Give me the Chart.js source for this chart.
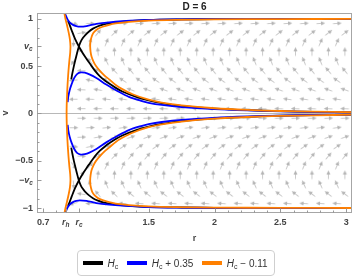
<!DOCTYPE html>
<html><head><meta charset="utf-8">
<script src="https://cdn.jsdelivr.net/npm/chart.js@4/dist/chart.umd.min.js"></script>
<style>
html,body{margin:0;padding:0;background:#fff;}
#wrap{position:relative;width:357px;height:278px;overflow:hidden;}
#c{position:absolute;left:0;top:0;}
.tl{position:absolute;font:italic bold 9px "Liberation Sans",Arial,sans-serif;color:#444;white-space:nowrap;line-height:10px;}
.tl sub{font-size:6.5px;vertical-align:baseline;position:relative;top:2px;}
#legend{position:absolute;left:77px;top:250px;height:26px;border:1px solid #cfcfcf;border-radius:4px;display:flex;align-items:center;padding:0 6px 0 5px;box-sizing:border-box;font:10px "Liberation Sans",Arial,sans-serif;color:#333;white-space:nowrap;}
#legend .it{display:flex;align-items:center;margin-right:9px;}
#legend .it:last-child{margin-right:0;}
#legend .sw{display:inline-block;width:20px;height:3.5px;margin-right:4.5px;}
#legend sub{font-size:7px;vertical-align:baseline;position:relative;top:2px;}
</style>
</head><body>
<div id="wrap"><canvas id="c" width="357" height="278"></canvas><div id="legend"></div></div>
<script>
// ---------- axis ticks ----------
const xTickValues = [0.7, 0.872, 0.97, 1.5, 2, 2.5, 3];
const xTickLabels = ['0.7', 'r_h', 'r_c', '1.5', '2', '2.5', '3'];
const xMinorTicks = [0.8, 1.1, 1.2, 1.3, 1.4, 1.6, 1.7, 1.8, 1.9, 2.1, 2.2, 2.3, 2.4, 2.6, 2.7, 2.8, 2.9];
const yTickValues = [-1, -0.707, -0.5, 0, 0.5, 0.707, 1];
const yTickLabels = ['\u22121', '\u2212v_c', '\u22120.5', '0', '0.5', 'v_c', '1'];
const yMinorTicks = [-0.9, -0.8, -0.6, -0.4, -0.3, -0.2, -0.1, 0.1, 0.2, 0.3, 0.4, 0.6, 0.8, 0.9];

// ---------- series ----------
const seriesNames = ['H_c', 'H_c + 0.35', 'H_c \u2212 0.11'];
const seriesColors = ['#000000', '#0000ff', '#ff8000'];

// H_c (black) separatrix branches
const blackUpperA = [[0.887,0.975],[0.9,0.935],[0.915,0.878],[0.94,0.79],[0.97,0.707],[1.0,0.635],[1.03,0.572],[1.053,0.527],[1.09,0.455],[1.128,0.395],[1.17,0.345],[1.2,0.315],[1.25,0.27],[1.3,0.232],[1.4,0.178],[1.5,0.138],[1.6,0.11],[1.75,0.081],[2.0,0.052],[2.25,0.035],[2.5,0.024],[2.75,0.017],[3.05,0.012]];
const blackUpperB = [[0.912,0.36],[0.92,0.42],[0.932,0.5],[0.955,0.63],[0.97,0.707],[0.985,0.76],[1.0,0.795],[1.015,0.822],[1.045,0.862],[1.077,0.895],[1.115,0.92],[1.153,0.937],[1.2,0.95],[1.253,0.96],[1.35,0.974],[1.5,0.986],[1.75,0.992],[2.0,0.995],[2.5,0.997],[3.05,0.998]];
const blackLowerA = [[0.887,-0.975],[0.9,-0.935],[0.915,-0.878],[0.94,-0.79],[0.97,-0.707],[1.0,-0.635],[1.03,-0.572],[1.053,-0.527],[1.09,-0.455],[1.128,-0.395],[1.17,-0.345],[1.2,-0.315],[1.25,-0.27],[1.3,-0.232],[1.4,-0.178],[1.5,-0.138],[1.6,-0.11],[1.75,-0.081],[2.0,-0.052],[2.25,-0.035],[2.5,-0.024],[2.75,-0.017],[3.05,-0.012]];
const blackLowerB = [[0.912,-0.36],[0.92,-0.42],[0.932,-0.5],[0.955,-0.63],[0.97,-0.707],[0.985,-0.76],[1.0,-0.795],[1.015,-0.822],[1.045,-0.862],[1.077,-0.895],[1.115,-0.92],[1.153,-0.937],[1.2,-0.95],[1.253,-0.96],[1.35,-0.974],[1.5,-0.986],[1.75,-0.992],[2.0,-0.995],[2.5,-0.997],[3.05,-0.998]];

// H_c + 0.35 (blue)
const blueUpperTop = [[0.862,1.06],[0.872,1.03],[0.885,0.99],[0.902,0.958],[0.925,0.935],[0.95,0.922],[0.977,0.916],[1.028,0.922],[1.103,0.945],[1.2,0.962],[1.3,0.973],[1.5,0.987],[1.75,0.993],[2.0,0.996],[2.5,0.998],[3.05,0.999]];
const blueUpperLow = [[0.885,0.12],[0.89,0.18],[0.9,0.245],[0.915,0.31],[0.935,0.375],[0.958,0.418],[0.985,0.434],[1.015,0.43],[1.05,0.413],[1.103,0.375],[1.178,0.305],[1.265,0.235],[1.35,0.175],[1.45,0.13],[1.5,0.112],[1.6,0.09],[1.75,0.068],[2.0,0.046],[2.25,0.032],[2.5,0.022],[2.75,0.016],[3.05,0.011]];
const blueLowerLow = [[0.862,-1.06],[0.872,-1.03],[0.885,-0.99],[0.902,-0.958],[0.925,-0.935],[0.95,-0.922],[0.977,-0.916],[1.028,-0.922],[1.103,-0.945],[1.2,-0.962],[1.3,-0.973],[1.5,-0.987],[1.75,-0.993],[2.0,-0.996],[2.5,-0.998],[3.05,-0.999]];
const blueLowerTop = [[0.885,-0.12],[0.89,-0.18],[0.9,-0.245],[0.915,-0.31],[0.935,-0.375],[0.958,-0.418],[0.985,-0.434],[1.015,-0.43],[1.05,-0.413],[1.103,-0.375],[1.178,-0.305],[1.265,-0.235],[1.35,-0.175],[1.45,-0.13],[1.5,-0.112],[1.6,-0.09],[1.75,-0.068],[2.0,-0.046],[2.25,-0.032],[2.5,-0.022],[2.75,-0.016],[3.05,-0.011]];

// H_c - 0.11 (orange)
const orangeLeft = [[0.858,1.07],[0.868,1.0],[0.88,0.93],[0.893,0.85],[0.902,0.78],[0.906,0.71],[0.904,0.64],[0.898,0.56],[0.891,0.45],[0.886,0.35],[0.882,0.25],[0.879,0.15],[0.877,0.05],[0.877,-0.05],[0.879,-0.15],[0.882,-0.25],[0.886,-0.35],[0.891,-0.45],[0.898,-0.56],[0.904,-0.64],[0.906,-0.71],[0.902,-0.78],[0.893,-0.85],[0.88,-0.93],[0.868,-1.0],[0.858,-1.07]];
const orangeUpperRight = [[3.05,0.997],[2.5,0.996],[2.0,0.993],[1.7,0.988],[1.5,0.98],[1.35,0.966],[1.25,0.95],[1.2,0.936],[1.15,0.915],[1.115,0.893],[1.09,0.865],[1.072,0.83],[1.062,0.785],[1.057,0.745],[1.056,0.7],[1.059,0.65],[1.066,0.6],[1.08,0.55],[1.1,0.5],[1.13,0.45],[1.165,0.4],[1.2,0.36],[1.25,0.3],[1.3,0.257],[1.378,0.203],[1.5,0.145],[1.6,0.114],[1.75,0.085],[2.0,0.055],[2.25,0.037],[2.5,0.026],[2.75,0.019],[3.05,0.013]];
const orangeLowerRight = [[3.05,-0.997],[2.5,-0.996],[2.0,-0.993],[1.7,-0.988],[1.5,-0.98],[1.35,-0.966],[1.25,-0.95],[1.2,-0.936],[1.15,-0.915],[1.115,-0.893],[1.09,-0.865],[1.072,-0.83],[1.062,-0.785],[1.057,-0.745],[1.056,-0.7],[1.059,-0.65],[1.066,-0.6],[1.08,-0.55],[1.1,-0.5],[1.13,-0.45],[1.165,-0.4],[1.2,-0.36],[1.25,-0.3],[1.3,-0.257],[1.378,-0.203],[1.5,-0.145],[1.6,-0.114],[1.75,-0.085],[2.0,-0.055],[2.25,-0.037],[2.5,-0.026],[2.75,-0.019],[3.05,-0.013]];

// ---------- stream arrows (grid) ----------
const arrowColsA = [0.93,1.055,1.18,1.305,1.43,1.555,1.68,1.805,1.93,2.055,2.18,2.305,2.43,2.555,2.68,2.805,2.93];
const arrowColsB = [0.99,1.115,1.24,1.365,1.49,1.615,1.74,1.865,1.99,2.115,2.24,2.365,2.49,2.615,2.74,2.865,2.99];
const arrowRowV = [0.95,0.85,0.75,0.65,0.55,0.45,0.35,0.25,0.15,0.05,-0.05,-0.15,-0.25,-0.35,-0.45,-0.55,-0.65,-0.75,-0.85,-0.95];
const arrowRowCols = ['A','B','A','B','A','B','A','B','A','B','B','A','B','A','B','A','B','A','B','A'];
// direction of each arrow in degrees, counter-clockwise from +r
const arrowAngles = [
 [-15,0,4,4,4,4,4,4,4,4,4,4,4,4,4,4,4],
 [10,50,44,40,38,38,38,38,38,38,38,38,38,38,38,38,38],
 [-95,75,68,66,66,66,66,66,66,66,66,66,66,66,66,66,66],
 [120,95,92,90,90,90,90,90,90,90,90,90,90,90,90,90,90],
 [235,130,116,112,112,112,112,112,112,112,112,112,112,112,112,112,112],
 [180,150,135,130,130,130,130,130,130,130,130,130,130,130,130,130,130],
 [185,168,152,146,145,145,145,145,145,145,145,145,145,145,145,145,145],
 [178,170,163,160,160,160,160,160,160,160,160,160,160,160,160,160,160],
 [180,178,174,172,172,172,172,172,172,172,172,172,172,172,172,172,172],
 [180,180,179,178,178,178,178,178,178,178,178,178,178,178,178,178,178],
 [0,0,1,2,2,2,2,2,2,2,2,2,2,2,2,2,2],
 [0,2,6,8,8,8,8,8,8,8,8,8,8,8,8,8,8],
 [2,10,17,20,20,20,20,20,20,20,20,20,20,20,20,20,20],
 [-5,12,28,34,35,35,35,35,35,35,35,35,35,35,35,35,35],
 [0,30,45,50,50,50,50,50,50,50,50,50,50,50,50,50,50],
 [-55,50,64,68,68,68,68,68,68,68,68,68,68,68,68,68,68],
 [60,85,88,90,90,90,90,90,90,90,90,90,90,90,90,90,90],
 [275,105,112,114,114,114,114,114,114,114,114,114,114,114,114,114,114],
 [170,130,136,140,142,142,142,142,142,142,142,142,142,142,142,142,142],
 [195,180,176,176,176,176,176,176,176,176,176,176,176,176,176,176,176]
];

// ---------- build ----------
const toXY = arr => arr.map(p => ({x: p[0], y: p[1]}));
const arrowPts = [], arrowRot = [];
arrowRowV.forEach((v, ri) => {
  const cols = arrowRowCols[ri] === 'A' ? arrowColsA : arrowColsB;
  cols.forEach((r, ci) => { arrowPts.push({x: r, y: v}); arrowRot.push(-arrowAngles[ri][ci]); });
});

function makeArrow() {
  const c = document.createElement('canvas'); c.width = 11; c.height = 7;
  const g = c.getContext('2d');
  g.strokeStyle = '#c4c4c4'; g.fillStyle = '#b4b4b4'; g.lineWidth = 0.9;
  g.beginPath(); g.moveTo(1.5, 3.5); g.lineTo(7, 3.5); g.stroke();
  g.beginPath(); g.moveTo(10.2, 3.5); g.lineTo(6, 1.6); g.lineTo(6, 5.4); g.closePath(); g.fill();
  return c;
}
const arrowImg = makeArrow();

function curve(arr, si) {
  return {type: 'line', data: toXY(arr), borderColor: seriesColors[si], borderWidth: 1.8,
    pointRadius: 0, tension: 0.3, fill: false, clip: 0, order: 3 - si, parsing: false};
}
const datasets = [
  curve(blackUpperA, 0), curve(blackUpperB, 0), curve(blackLowerA, 0), curve(blackLowerB, 0),
  curve(blueUpperTop, 1), curve(blueUpperLow, 1), curve(blueLowerLow, 1), curve(blueLowerTop, 1),
  curve(orangeLeft, 2), curve(orangeUpperRight, 2), curve(orangeLowerRight, 2),
  {type: 'scatter', data: arrowPts, pointStyle: arrowImg, rotation: arrowRot, pointRadius: 4,
   showLine: false, clip: 0, order: 10}
];

const FONT = '"Liberation Sans", Arial, sans-serif';
const framePlugin = {
  id: 'frame',
  beforeDatasetsDraw(chart) {
    const {ctx, chartArea: a, scales: {y}} = chart;
    const py = Math.round(y.getPixelForValue(0)) + 0.5;
    ctx.save(); ctx.strokeStyle = '#b8b8b8'; ctx.lineWidth = 1;
    ctx.beginPath(); ctx.moveTo(a.left, py); ctx.lineTo(a.right, py); ctx.stroke(); ctx.restore();
  },
  afterDatasetsDraw(chart) {
    const {ctx, chartArea: a, scales: {x, y}} = chart;
    ctx.save();
    ctx.strokeStyle = '#a6a6a6'; ctx.lineWidth = 1;
    ctx.strokeRect(Math.round(a.left) + 0.5, Math.round(a.top) + 0.5, Math.round(a.right - a.left) - 1, Math.round(a.bottom - a.top) - 1);
    ctx.strokeStyle = '#999';
    const xt = (v, len) => { const p = Math.round(x.getPixelForValue(v)) + 0.5; ctx.beginPath(); ctx.moveTo(p, a.bottom); ctx.lineTo(p, a.bottom - len); ctx.stroke(); };
    const yt = (v, len) => { const p = Math.round(y.getPixelForValue(v)) + 0.5; ctx.beginPath(); ctx.moveTo(a.left, p); ctx.lineTo(a.left + len, p); ctx.stroke(); };
    xTickValues.forEach(v => xt(v, 4.5)); xMinorTicks.forEach(v => xt(v, 2.5));
    yTickValues.forEach(v => yt(v, 4.5)); yMinorTicks.forEach(v => yt(v, 2.5));
    ctx.restore();
  }
};

const chart = new Chart(document.getElementById('c'), {
  data: {datasets},
  options: {
    responsive: false, animation: false, events: [],
    layout: {padding: {left: 0, right: 2, top: 0, bottom: 34}},
    plugins: {
      legend: {display: false}, tooltip: {enabled: false},
      title: {display: true, text: 'D = 6', fullSize: false, color: '#222',
        font: {family: FONT, size: 10, weight: 'bold'}, padding: {top: 1, bottom: 0}}
    },
    scales: {
      x: {type: 'linear', min: 0.652, max: 3.044,
        afterBuildTicks: s => { s.ticks = xTickValues.map(v => ({value: v})); },
        afterFit: s => { s.height = 31; },
        ticks: {autoSkip: false, maxRotation: 0, padding: 4, color: '#444',
          font: {family: FONT, size: 9, weight: 'bold'},
          callback: (v, i) => xTickLabels[i].includes('_') ? '' : xTickLabels[i]},
        grid: {display: false, drawTicks: false}, border: {display: false},
        title: {display: true, text: 'r', color: '#444', padding: 0, font: {family: FONT, size: 9, weight: 'bold'}}},
      y: {type: 'linear', min: -1.05, max: 1.06,
        afterBuildTicks: s => { s.ticks = yTickValues.map(v => ({value: v})); },
        afterFit: s => { s.width = 37; },
        ticks: {autoSkip: false, padding: 4, color: '#444',
          font: {family: FONT, size: 9, weight: 'bold'},
          callback: (v, i) => yTickLabels[i].includes('_') ? '' : yTickLabels[i]},
        grid: {display: false, drawTicks: false}, border: {display: false},
        title: {display: true, text: 'v', color: '#444', padding: 0, font: {family: FONT, size: 9, weight: 'bold'}}}
    }
  },
  plugins: [framePlugin]
});

// rich (subscripted) labels as HTML text positioned with the chart's scales
const rich = s => s.replace(/([A-Za-z])_([a-z])/g, '<i>$1</i><sub>$2</sub>');
const wrap = document.getElementById('wrap');
const a = chart.chartArea;
xTickLabels.forEach((t, i) => {
  if (!t.includes('_')) return;
  const d = document.createElement('div'); d.className = 'tl'; d.innerHTML = rich(t);
  wrap.appendChild(d);
  d.style.left = (chart.scales.x.getPixelForValue(xTickValues[i]) - d.offsetWidth / 2) + 'px';
  d.style.top = (a.bottom + 4) + 'px';
});
yTickLabels.forEach((t, i) => {
  if (!t.includes('_')) return;
  const d = document.createElement('div'); d.className = 'tl'; d.innerHTML = rich(t);
  wrap.appendChild(d);
  d.style.left = (a.left - 4 - d.offsetWidth) + 'px';
  d.style.top = (chart.scales.y.getPixelForValue(yTickValues[i]) - d.offsetHeight / 2) + 'px';
});
const lg = document.getElementById('legend');
seriesNames.forEach((n, i) => {
  const it = document.createElement('span'); it.className = 'it';
  it.innerHTML = '<span class="sw" style="background:' + seriesColors[i] + '"></span><span>' + rich(n) + '</span>';
  lg.appendChild(it);
});
</script>
</body></html>
